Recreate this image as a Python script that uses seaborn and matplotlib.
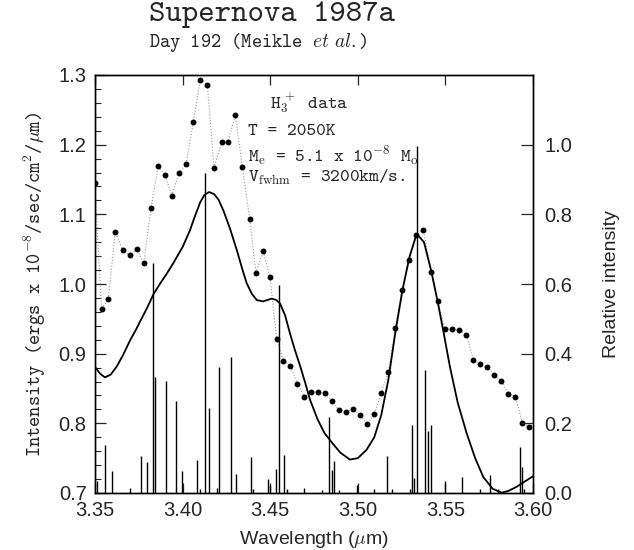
import numpy as np
import matplotlib
matplotlib.use("Agg")
import matplotlib.pyplot as plt
import seaborn as sns
from matplotlib.ticker import MultipleLocator, FormatStrFormatter

# ------------------------------------------------------------
# observed spectrum (Meikle et al., day 192)
# ------------------------------------------------------------
obs_wl = [3.3498, 3.3538, 3.3576, 3.3616, 3.3658, 3.3698, 3.3740, 3.3778,
          3.3820, 3.3860, 3.3900, 3.3938, 3.3980, 3.4020, 3.4061, 3.4100,
          3.4141, 3.4179, 3.4225, 3.4259, 3.4301, 3.4341, 3.4383, 3.4419,
          3.4460, 3.4499, 3.4537, 3.4575, 3.4615, 3.4655, 3.4695, 3.4735,
          3.4775, 3.4815, 3.4853, 3.4891, 3.4933, 3.4973, 3.5013, 3.5053,
          3.5094, 3.5134, 3.5174, 3.5214, 3.5254, 3.5294, 3.5334, 3.5374,
          3.5418, 3.5456, 3.5498, 3.5540, 3.5580, 3.5620, 3.5660, 3.5700,
          3.5740, 3.5780, 3.5820, 3.5860, 3.5900, 3.5940, 3.5980]
obs_flux = [1.145, 0.964, 0.979, 1.074, 1.049, 1.041, 1.050, 1.030,
            1.109, 1.169, 1.156, 1.127, 1.160, 1.172, 1.232, 1.293,
            1.286, 1.167, 1.204, 1.204, 1.243, 1.168, 1.093, 1.016,
            1.047, 1.010, 0.921, 0.890, 0.882, 0.857, 0.838, 0.845,
            0.845, 0.843, 0.832, 0.819, 0.816, 0.821, 0.812, 0.799,
            0.813, 0.844, 0.873, 0.937, 0.992, 1.034, 1.071, 1.078,
            1.017, 0.975, 0.935, 0.935, 0.934, 0.927, 0.891, 0.885,
            0.881, 0.869, 0.861, 0.842, 0.838, 0.800, 0.795]

# ------------------------------------------------------------
# H3+ model spectrum (T = 2050 K)
# ------------------------------------------------------------
model_wl = [3.3500, 3.3530, 3.3557, 3.3590, 3.3625, 3.3660, 3.3700, 3.3735,
            3.3765, 3.3800, 3.3833, 3.3870, 3.3910, 3.3947, 3.4000, 3.4042,
            3.4070, 3.4100, 3.4125, 3.4151, 3.4180, 3.4205, 3.4232, 3.4270,
            3.4309, 3.4340, 3.4366, 3.4395, 3.4423, 3.4460, 3.4508, 3.4535,
            3.4556, 3.4585, 3.4613, 3.4640, 3.4670, 3.4700, 3.4727, 3.4770,
            3.4810, 3.4860, 3.4900, 3.4955, 3.5000, 3.5050, 3.5094, 3.5134,
            3.5174, 3.5214, 3.5254, 3.5294, 3.5336, 3.5378, 3.5418, 3.5454,
            3.5490, 3.5526, 3.5570, 3.5621, 3.5670, 3.5716, 3.5770, 3.5821,
            3.5860, 3.5907, 3.5950, 3.6000]
model_flux = [0.881, 0.871, 0.866, 0.870, 0.882, 0.898, 0.919, 0.935,
              0.950, 0.967, 0.985, 1.000, 1.015, 1.030, 1.053, 1.077,
              1.097, 1.117, 1.128, 1.132, 1.129, 1.121, 1.106, 1.080,
              1.049, 1.022, 1.001, 0.986, 0.977, 0.975, 0.979, 0.977,
              0.972, 0.955, 0.929, 0.906, 0.883, 0.858, 0.834, 0.806,
              0.786, 0.770, 0.758, 0.748, 0.750, 0.762, 0.780, 0.812,
              0.862, 0.930, 0.990, 1.038, 1.072, 1.060, 1.020, 0.977,
              0.930, 0.881, 0.830, 0.786, 0.750, 0.723, 0.706, 0.7005,
              0.703, 0.709, 0.716, 0.724]

# ------------------------------------------------------------
# individual H3+ line positions and relative intensities
# ------------------------------------------------------------
line_wl = [3.3513, 3.3557, 3.3599, 3.3698, 3.3763, 3.3794, 3.3833, 3.3844,
           3.3907, 3.3964, 3.3997, 3.4084, 3.4099, 3.4128, 3.4149, 3.4195,
           3.4210, 3.4275, 3.4303, 3.4389, 3.4400, 3.4486, 3.4499, 3.4533,
           3.4552, 3.4580, 3.4594, 3.4695, 3.4794, 3.4837, 3.4851, 3.4864,
           3.4894, 3.4997, 3.5092, 3.5168, 3.5195, 3.5298, 3.5307, 3.5319,
           3.5336, 3.5382, 3.5399, 3.5418, 3.5498, 3.5597, 3.5697, 3.5752,
           3.5800, 3.5926, 3.5937, 3.5949]
line_int = [0.035, 0.139, 0.063, 0.013, 0.105, 0.089, 0.659, 0.334,
            0.322, 0.265, 0.062, 0.094, 0.011, 0.920, 0.244, 0.013,
            0.363, 0.391, 0.055, 0.102, 0.011, 0.040, 0.023, 0.068,
            0.598, 0.108, 0.011, 0.013, 0.010, 0.217, 0.065, 0.092,
            0.008, 0.023, 0.011, 0.107, 0.011, 0.011, 0.195, 0.043,
            0.996, 0.354, 0.178, 0.195, 0.035, 0.047, 0.011, 0.051,
            0.011, 0.132, 0.076, 0.011]

sns.set_style("ticks")
plt.rcParams["font.family"] = ["Liberation Sans", "DejaVu Sans"]
plt.rcParams["mathtext.fontset"] = "cm"

fig = plt.figure(figsize=(6.34, 5.5), dpi=100)
ax = fig.add_axes([95 / 634, 57 / 550, 438 / 634, 418 / 550])
ax2 = ax.twinx()

# line strengths on the relative scale
ax2.vlines(line_wl, 0, line_int, color="black", lw=1.0)

# dotted trace + points
sns.lineplot(x=obs_wl, y=obs_flux, ax=ax, color="0.6", lw=0.8,
             linestyle=":", estimator=None, sort=False)
sns.scatterplot(x=obs_wl, y=obs_flux, ax=ax, color="black", s=18,
                linewidth=0, zorder=3)

# model curve
sns.lineplot(x=model_wl, y=model_flux, ax=ax, color="black", lw=1.3,
             estimator=None, sort=False)

ax.set_xlim(3.35, 3.60)
ax.set_ylim(0.7, 1.3)
ax2.set_ylim(0.0, 1.2)

ax.xaxis.set_major_locator(MultipleLocator(0.05))
ax.yaxis.set_major_locator(MultipleLocator(0.1))
ax.yaxis.set_minor_locator(MultipleLocator(0.02))
ax.xaxis.set_major_formatter(FormatStrFormatter("%.2f"))
ax.yaxis.set_major_formatter(FormatStrFormatter("%.1f"))
ax2.set_yticks([0.0, 0.2, 0.4, 0.6, 0.8, 1.0])
ax2.yaxis.set_major_formatter(FormatStrFormatter("%.1f"))

ax.tick_params(axis="x", which="major", direction="in", length=7, width=0.9,
               top=True, labelsize=14.5, pad=6)
ax.tick_params(axis="y", which="major", direction="in", length=8, width=0.9,
               right=False, labelsize=14.5, pad=6)
ax.tick_params(axis="y", which="minor", direction="in", length=4, width=0.8,
               right=False)
ax2.tick_params(axis="y", direction="in", length=9, width=0.9,
                labelsize=14.5, pad=8)

for sp in list(ax.spines.values()) + list(ax2.spines.values()):
    sp.set_linewidth(1.0)
    sp.set_color("black")

ax.set_xlabel(r"Wavelength ($\mu$m)", fontsize=14, labelpad=6)
ax.set_ylabel(r"Intensity (ergs x 10$^{-8}$/sec/cm$^2$/$\mu$m)",
              fontsize=14, family="cmtt10", labelpad=8)
ax2.set_ylabel("Relative intensity", fontsize=14, labelpad=22)

# titles
fig.text(149 / 634, 1 - 15 / 550, "Supernova 1987a", family="cmtt10",
         fontsize=22.5, ha="left", va="center")
fig.text(149 / 634, 1 - 43 / 550, r"Day 192 (Meikle $\it{et\ al.}$)",
         family="cmtt10", fontsize=14, ha="left", va="center")

# model parameters
tkw = dict(transform=ax.transAxes, family="cmtt10", fontsize=13.3,
           ha="left", va="center")
ax.text(0.40, 0.933, r"H$_3^{\,+}$ data", **tkw)
ax.text(0.349, 0.864, "T = 2050K", **tkw)
ax.text(0.349, 0.809, r"M$_{\rm e}$ = 5.1 x 10$^{-8}$ M$_{\rm o}$", **tkw)
ax.text(0.349, 0.754, r"V$_{\rm fwhm}$ = 3200km/s.", **tkw)

fig.savefig("out.png", dpi=100)
